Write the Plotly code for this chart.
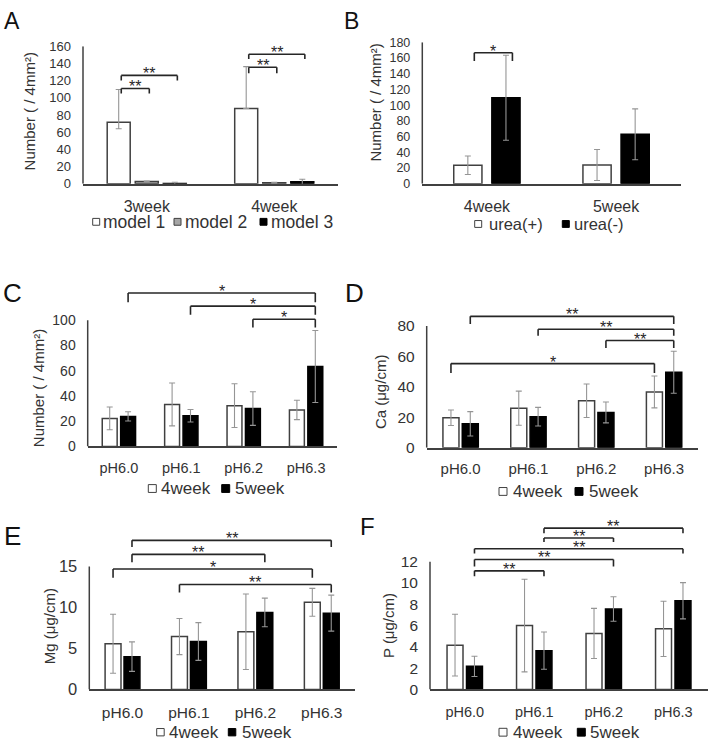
import plotly.graph_objects as go

W, H = 709, 751
FONT = "Liberation Sans, Arial, Helvetica, sans-serif"
TXT = "#333333"
AXC = "#404040"
ERRC = "#959595"
WHITE, GRAY, BLACK = "#ffffff", "#a6a6a6", "#000000"

# ---------------- data ----------------
a_categories = ["3week", "4week"]
a_names = ["model 1", "model 2", "model 3"]
a_model1 = [71.7, 87.6]
a_model1_up = [38.0, 48.6]
a_model1_down = [7.7, 0.0]
a_model2 = [2.7, 1.2]
a_model2_err = [0.6, 0.7]
a_model3 = [0.3, 2.3]
a_model3_err = [1.6, 3.0]
a_yticks = [0, 20, 40, 60, 80, 100, 120, 140, 160]

b_categories = ["4week", "5week"]
b_names = ["urea(+)", "urea(-)"]
b_urea_pos = [23.6, 24.0]
b_urea_pos_err = [11.7, 19.7]
b_urea_neg = [109.5, 63.0]
b_urea_neg_err = [54.0, 32.3]
b_yticks = [0, 20, 40, 60, 80, 100, 120, 140, 160, 180]

ph_categories = ["pH6.0", "pH6.1", "pH6.2", "pH6.3"]
week_names = ["4week", "5week"]

c_4week = [22.2, 33.3, 32.3, 28.9]
c_4week_err = [9.0, 17.0, 17.3, 7.7]
c_5week = [23.8, 24.3, 30.0, 63.3]
c_5week_err = [3.7, 5.0, 13.3, 28.5]
c_yticks = [0, 20, 40, 60, 80, 100]

d_4week = [19.7, 26.0, 30.9, 36.7]
d_4week_err = [5.1, 11.2, 11.0, 10.5]
d_5week = [15.7, 20.4, 23.2, 49.6]
d_5week_err = [8.0, 6.1, 6.9, 13.8]
d_yticks = [0, 20, 40, 60, 80]

e_4week = [5.57, 6.45, 7.04, 10.63]
e_4week_err = [3.6, 2.2, 4.6, 1.7]
e_5week = [4.0, 5.85, 9.39, 9.31]
e_5week_err = [1.8, 2.3, 1.75, 2.2]
e_yticks = [0, 5, 10, 15]

f_4week = [4.16, 6.0, 5.26, 5.69]
f_4week_err = [2.9, 4.35, 2.35, 2.6]
f_5week = [2.17, 3.64, 7.56, 8.33]
f_5week_err = [0.95, 1.75, 1.15, 1.7]
f_yticks = [0, 2, 4, 6, 8, 10, 12]

# significance brackets: (cat_left, series_left, cat_right, series_right, bracket level, tick bottom, label)
a_sig = [(0, 0, 0, 1, 110.8, 105.0, "**"), (0, 0, 0, 2, 126.0, 120.0, "**"),
         (1, 0, 1, 1, 135.4, 128.6, "**"), (1, 0, 1, 2, 150.6, 145.0, "**")]
b_sig = [(0, 0, 0, 1, 166.7, 156.0, "*")]
c_sig = [(0, 1, 3, 1, 121.5, 114.2, "*"), (1, 1, 3, 1, 111.1, 104.4, "*"),
         (2, 1, 3, 1, 100.8, 94.3, "*")]
d_sig = [(0, 1, 3, 1, 86.4, 81.3, "**"), (1, 1, 3, 1, 77.9, 73.6, "**"),
         (2, 1, 3, 1, 70.5, 65.6, "**"), (0, 0, 3, 0, 55.3, 49.1, "*")]
e_sig = [(0, 1, 3, 1, 18.19, 17.39, "**"), (0, 1, 2, 1, 16.48, 15.53, "**"),
         (0, 0, 3, 0, 14.69, 13.62, "*"), (1, 0, 3, 1, 12.81, 11.82, "**")]
f_sig = [(1, 1, 3, 1, 15.15, 14.66, "**"), (1, 1, 2, 1, 14.23, 13.84, "**"),
         (0, 1, 3, 1, 13.22, 12.76, "**"), (0, 1, 2, 1, 12.21, 11.54, "**"),
         (0, 1, 1, 1, 11.14, 10.62, "**")]

# ---------------- panel specs (layout only) ----------------
panels = [
    dict(letter="A", cats=a_categories,
         series=[(a_names[0], a_model1, a_model1_up, a_model1_down, WHITE),
                 (a_names[1], a_model2, a_model2_err, a_model2_err, GRAY),
                 (a_names[2], a_model3, a_model3_err, a_model3_err, BLACK)],
         frame=(83, 338, 180.7, 40.0), ytop=160, yticks=a_yticks,
         ytitle="Number ( / 4mm²)", ytitle_xy=(29, 106.7),
         letter_xy=(12, 14.5), letter_fs=23, tick_fs=13, cat_fs=16, cat_off=7,
         bargap=0.34, groupgap=0.18, sig=a_sig, sig_dx=0.02,
         legend=[(92.7, 100.5), (174.0, 183.0), (260.0, 268.5)], legend_y=219.5, legend_sq=7, legend_fs=17.5),
    dict(letter="B", cats=b_categories,
         series=[(b_names[0], b_urea_pos, b_urea_pos_err, b_urea_pos_err, WHITE),
                 (b_names[1], b_urea_neg, b_urea_neg_err, b_urea_neg_err, BLACK)],
         frame=(422.3, 680.7, 180.7, 36.0), ytop=180, yticks=b_yticks,
         ytitle="Number ( / 4mm²)", ytitle_xy=(375.7, 98),
         letter_xy=(351.5, 14.5), letter_fs=23, tick_fs=12.5, cat_fs=16, cat_off=7,
         bargap=0.41, groupgap=0.26, sig=b_sig, sig_dx=0.05,
         legend=[(474.7, 486.7), (562.3, 572.3)], legend_y=221.7, legend_sq=7, legend_fs=16.5),
    dict(letter="C", cats=ph_categories,
         series=[(week_names[0], c_4week, c_4week_err, c_4week_err, WHITE),
                 (week_names[1], c_5week, c_5week_err, c_5week_err, BLACK)],
         frame=(87.7, 337.3, 449.0, 281.3), ytop=130, yticks=c_yticks,
         ytitle="Number ( / 4mm²)", ytitle_xy=(38.5, 390),
         letter_xy=(12, 292.5), letter_fs=26, tick_fs=14, cat_fs=14.5, cat_off=7,
         bargap=0.41, groupgap=0.19, sig=c_sig, sig_dx=0.0,
         legend=[(148.3, 159.3), (221.7, 233.3)], legend_y=492.0, legend_sq=8, legend_fs=17),
    dict(letter="D", cats=ph_categories,
         series=[(week_names[0], d_4week, d_4week_err, d_4week_err, WHITE),
                 (week_names[1], d_5week, d_5week_err, d_5week_err, BLACK)],
         frame=(426.7, 698.0, 450.3, 302.7), ytop=95, yticks=d_yticks,
         ytitle="Ca (μg/cm)", ytitle_xy=(380.5, 394),
         letter_xy=(354, 292.5), letter_fs=26, tick_fs=15.5, cat_fs=15, cat_off=7,
         bargap=0.43, groupgap=0.17, sig=d_sig, sig_dx=0.0,
         legend=[(499.0, 511.3), (575.0, 587.3)], legend_y=495.0, legend_sq=8, legend_fs=17),
    dict(letter="E", cats=ph_categories,
         series=[(week_names[0], e_4week, e_4week_err, e_4week_err, WHITE),
                 (week_names[1], e_5week, e_5week_err, e_5week_err, BLACK)],
         frame=(89.3, 355.0, 697.3, 529.8), ytop=20, yticks=e_yticks,
         ytitle="Mg (μg/cm)", ytitle_xy=(49, 632.7),
         letter_xy=(12, 541), letter_fs=26, tick_fs=16.5, cat_fs=15.5, cat_off=8,
         bargap=0.43, groupgap=0.16, sig=e_sig, sig_dx=0.0,
         legend=[(156.7, 166.5), (228.3, 240.0)], legend_y=741.0, legend_sq=7.5, legend_fs=17),
    dict(letter="F", cats=ph_categories,
         series=[(week_names[0], f_4week, f_4week_err, f_4week_err, WHITE),
                 (week_names[1], f_5week, f_5week_err, f_5week_err, BLACK)],
         frame=(430.0, 708.0, 697.3, 517.8), ytop=16.5, yticks=f_yticks,
         ytitle="P (μg/cm)", ytitle_xy=(388, 632.5),
         letter_xy=(367, 531), letter_fs=24, tick_fs=15.5, cat_fs=14.5, cat_off=8,
         bargap=0.44, groupgap=0.18, sig=f_sig, sig_dx=0.0,
         legend=[(499.0, 510.7), (577.3, 588.3)], legend_y=741.0, legend_sq=8, legend_fs=17),
]


def px_x(p):
    return p / W


def px_y(p):
    return 1 - p / H


fig = go.Figure()
shapes, annotations = [], []
layout = {}

for k, P in enumerate(panels):
    s = "" if k == 0 else str(k + 1)
    xa, ya = "x" + s, "y" + s
    n = len(P["series"])
    slot = (1 - P["bargap"]) / n
    bw = slot * (1 - P["groupgap"])

    def center(i, slot=slot, P=P):
        return -(1 - P["bargap"]) / 2 + (i + 0.5) * slot

    for i, (name, vals, up, down, fill) in enumerate(P["series"]):
        off = -(1 - P["bargap"]) / 2 + i * slot + (slot - bw) / 2
        fig.add_trace(go.Bar(
            x=P["cats"], y=vals, name=name, xaxis=xa, yaxis=ya,
            width=bw, offset=off, showlegend=False,
            marker=dict(color=fill, line=dict(color=AXC if fill != BLACK else BLACK, width=1.5)),
            error_y=dict(type="data", symmetric=False, array=up, arrayminus=down,
                         color=ERRC, thickness=1.1, width=3),
        ))

    x0, x1, yb, yt = P["frame"]
    layout["xaxis" + s] = dict(
        domain=[px_x(x0), px_x(x1)], anchor=ya, type="category",
        range=[-0.5, len(P["cats"]) - 0.5], showline=True, linecolor=AXC, linewidth=1.5,
        ticks="", showgrid=False, zeroline=False,
        tickfont=dict(family=FONT, size=P["cat_fs"], color=TXT), ticklabelstandoff=int(P["cat_off"]),
    )
    layout["yaxis" + s] = dict(
        domain=[px_y(yb), px_y(yt)], anchor=xa, range=[0, P["ytop"]],
        tickvals=P["yticks"], showline=False, showgrid=False, zeroline=False, ticks="",
        tickfont=dict(family=FONT, size=P["tick_fs"], color=TXT), ticklabelstandoff=11,
    )
    # y axis line up to the top tick
    shapes.append(dict(type="line", xref=xa + " domain", yref=ya, x0=0, x1=0,
                       y0=0, y1=P["yticks"][-1], line=dict(color=AXC, width=1.5)))

    # significance brackets
    for (cl, sl, cr, sr, lvl, bot, lab) in P["sig"]:
        xl = cl + center(sl) + P["sig_dx"]
        xr = cr + center(sr) + P["sig_dx"]
        for (ax0, ay0, ax1, ay1) in [(xl, bot, xl, lvl), (xl, lvl, xr, lvl), (xr, lvl, xr, bot)]:
            shapes.append(dict(type="line", xref=xa, yref=ya, x0=ax0, y0=ay0, x1=ax1, y1=ay1,
                               line=dict(color="#262626", width=1.6)))
        annotations.append(dict(x=(xl + xr) / 2, y=lvl, xref=xa, yref=ya, text=lab,
                                showarrow=False, xanchor="center", yanchor="bottom", yshift=-8,
                                borderpad=0,
                                font=dict(family=FONT, size=16, color="#262626")))

    # y-axis title
    tx, ty = P["ytitle_xy"]
    annotations.append(dict(x=px_x(tx), y=px_y(ty), xref="paper", yref="paper", text=P["ytitle"],
                            textangle=-90, showarrow=False, xanchor="center", yanchor="middle",
                            font=dict(family=FONT, size=15, color=TXT)))
    # panel letter
    lx, ly = P["letter_xy"]
    annotations.append(dict(x=px_x(lx), y=px_y(ly), xref="paper", yref="paper", text=P["letter"],
                            showarrow=False, xanchor="center", yanchor="middle",
                            font=dict(family=FONT, size=P["letter_fs"], color="#111111")))
    # legend
    q = P["legend_sq"]
    for (sqx, txx), (name, vals, up, down, fill) in zip(P["legend"], P["series"]):
        shapes.append(dict(type="rect", xref="paper", yref="paper",
                           x0=px_x(sqx), x1=px_x(sqx + q),
                           y0=px_y(P["legend_y"] + q / 2), y1=px_y(P["legend_y"] - q / 2),
                           fillcolor=fill, line=dict(color=AXC if fill != BLACK else BLACK, width=1)))
        annotations.append(dict(x=px_x(txx), y=px_y(P["legend_y"]), xref="paper", yref="paper",
                                text=name, showarrow=False, xanchor="left", yanchor="middle",
                                font=dict(family=FONT, size=P["legend_fs"], color=TXT)))

fig.update_layout(
    width=W, height=H, margin=dict(l=0, r=0, t=0, b=0),
    paper_bgcolor="white", plot_bgcolor="white", barmode="overlay",
    shapes=shapes, annotations=annotations, showlegend=False,
    font=dict(family=FONT, color=TXT), **layout,
)
fig.write_html("out.html")
